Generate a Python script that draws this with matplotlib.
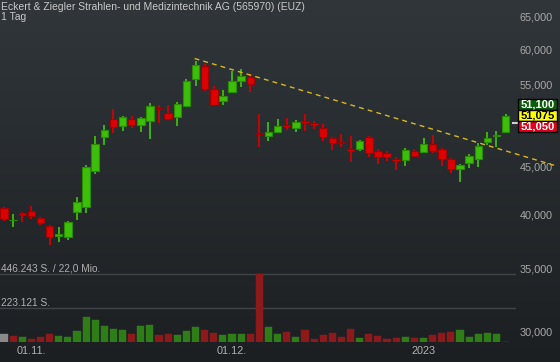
import numpy as np
import matplotlib
matplotlib.use("Agg")
import matplotlib.pyplot as plt
from matplotlib.colors import LinearSegmentedColormap
from matplotlib.ticker import FixedLocator, NullLocator
from matplotlib.patches import Rectangle
import matplotlib.transforms as mtransforms

plt.rcParams['font.family'] = ['Liberation Sans', 'DejaVu Sans']

# ---------------- data ----------------
title = "Eckert & Ziegler Strahlen- und Medizintechnik AG (565970) (EUZ)"
period = "1 Tag"

opens = [40625, 39425, 40160, 40325, 39670, 38865, 37950, 37885, 40285, 40785,
         44555, 48435, 50555, 49765, 50555, 49885, 50380, 51940, 51305, 50880,
         52270, 55815, 57670, 54460, 52875, 54100, 55540, 56090, 48915, 48520,
         49000, 49910, 49520, 50305, 50060, 49445, 48250, 47810, 46960, 46960,
         48400, 46765, 46505, 45820, 45740, 46765, 46685, 47575, 46960, 45820,
         44775, 45440, 45890, 47845, 48485, 49035]
highs = [40785, 40060, 40255, 40855, 39765, 38990, 38800, 39345, 41740, 45185,
         48520, 49850, 51850, 50965, 50965, 50840, 52615, 52360, 52360, 52750,
         55815, 58340, 57870, 54865, 54325, 56925, 57205, 56505, 51215, 50220,
         50590, 50715, 50465, 51215, 50305, 49975, 48365, 48760, 48520, 48045,
         48520, 46960, 46730, 46080, 47075, 46960, 48320, 48640, 47075, 46000,
         45295, 46420, 47730, 49000, 49120, 51215]
lows = [39405, 38825, 39305, 39570, 39020, 37150, 37425, 37605, 39500, 40130,
        44230, 47495, 48915, 49155, 49520, 49035, 48200, 50060, 50555, 49765,
        52145, 54865, 54195, 52235, 52360, 53965, 54770, 54100, 47225, 47930,
        48845, 49240, 49000, 49120, 49325, 47930, 46880, 47260, 45550, 46800,
        46115, 45295, 45630, 44665, 45105, 46080, 46570, 46505, 45105, 44340,
        43365, 44885, 44995, 47460, 47260, 48845]
closes = [39540, 39520, 39930, 39860, 39180, 37885, 38140, 39250, 41230, 44930,
          47540, 49240, 49640, 50800, 49885, 50680, 52235, 51810, 50630, 52490,
          55540, 57770, 54460, 52360, 53530, 55540, 56230, 55175, 48795, 49000,
          49730, 49665, 50220, 50130, 49850, 48440, 47730, 47655, 46800, 47895,
          46570, 46115, 46045, 45665, 46880, 46230, 47575, 46800, 45855, 44775,
          45185, 46195, 47340, 48280, 48640, 51000]
volumes = [54700, 39100, 30600, 21500, 34500, 54100, 41000, 34500, 69700, 164800,
           143300, 102300, 86600, 80100, 54100, 102300, 112700, 47600, 50200, 43600,
           71700, 99700, 76200, 60600, 43600, 54100, 54100, 54100, 446243, 97700,
           54100, 65100, 34500, 80100, 21500, 43600, 60600, 32600, 86600, 26100,
           50200, 39100, 21500, 28000, 32600, 26100, 24100, 47600, 60600, 65100,
           78200, 34500, 50200, 58600, 52100, 0]

price_ticks = [30000, 35000, 40000, 45000, 55000, 60000, 65000]
price_tick_labels = ["30,000", "35,000", "40,000", "45,000", "55,000", "60,000", "65,000"]
date_tick_pos = [3, 25, 46]
date_tick_labels = ["01.11.", "01.12.", "2023"]

vol_max = 446243
vol_max_label = "446.243 S. / 22,0 Mio."
vol_half_label = "223.121 S."

trend_x = [20.9, 60.4]
trend_y = [58700, 45130]

quote_labels = ["51,100", "51,075", "51,050"]
quote_price = 51075

# ---------------- figure ----------------
W, H, DPI = 560, 362, 100
fig = plt.figure(figsize=(W / DPI, H / DPI), dpi=DPI)

bg = fig.add_axes([0, 0, 1, 1], zorder=-10)
cmap = LinearSegmentedColormap.from_list("bg", ["#30363a", "#1c1f22"])
bg.imshow(np.linspace(0, 1, 256).reshape(-1, 1), aspect="auto", cmap=cmap,
          extent=[0, 1, 0, 1], origin="upper")
bg.axis("off")

plot_w = 516 / W
bottom = 20 / H
ax = fig.add_axes([0, bottom, plot_w, 342 / H])
ax.set_facecolor("none")
for s in ax.spines.values():
    s.set_visible(False)
ax.set_yscale("log")
ax.set_ylim(65000 * np.exp(-(342 - 17) / 407), 65000 * np.exp(17 / 407))
ax.set_xlim(-0.44, 56.14)

n = len(opens)
x = np.arange(n)
o = np.array(opens, float)
c = np.array(closes, float)
h = np.array(highs, float)
l = np.array(lows, float)
up = c >= o
fill = np.where(up, "#3cbe0a", "#dc0000")
edge = np.where(up, "#2c8c00", "#a00000")
wick = np.where(up, "#3cbe0a", "#d40000")

ax.vlines(x, l, h, colors=wick, linewidth=1.3, zorder=2)
ax.bar(x, np.abs(c - o), bottom=np.minimum(o, c), width=0.82, color=fill,
       edgecolor=edge, linewidth=0.8, zorder=3)

tl, = ax.plot(trend_x, trend_y, color="#d9b91a", linewidth=1.0, clip_on=False, zorder=4)
tl.set_dashes([3.5, 3])

ax.yaxis.set_major_locator(FixedLocator(price_ticks))
ax.yaxis.set_minor_locator(NullLocator())
ax.set_yticklabels(price_tick_labels)
ax.yaxis.tick_right()
ax.tick_params(axis="y", length=0, pad=26.6, labelcolor="#a8a8a8", labelsize=7.8)
for lbl in ax.get_yticklabels():
    lbl.set_horizontalalignment("right")
ax.tick_params(axis="x", bottom=False, labelbottom=False)

# volume
vol_h_px = 80
axv = fig.add_axes([0, bottom, plot_w, vol_h_px / H], sharex=ax)
axv.set_facecolor("none")
for s in axv.spines.values():
    s.set_visible(False)
axv.set_ylim(0, vol_max * vol_h_px / 68.5)
axv.set_yticks([])
v = np.array(volumes, float)
vcol = ["#8a8a8a"] + ["#2f7d16" if closes[i] >= closes[i - 1] else "#8c1a1a" for i in range(1, n)]
axv.bar(x, v, width=0.78, color=vcol, edgecolor=vcol, linewidth=0.3, zorder=2)
for lvl in (vol_max, vol_max / 2):
    axv.axhline(lvl, color="#404448", linewidth=1.0, zorder=1)
tr = mtransforms.blended_transform_factory(axv.transAxes, axv.transData)
axv.text(0.002, vol_max, vol_max_label, transform=tr, ha="left", va="bottom",
         color="#b0b0b0", fontsize=7.3)
axv.text(0.002, vol_max / 2, vol_half_label, transform=tr, ha="left", va="bottom",
         color="#b0b0b0", fontsize=7.3)
axv.set_xticks(date_tick_pos)
axv.set_xticklabels(date_tick_labels)
axv.tick_params(axis="x", length=0, pad=3.2, labelcolor="#b0b0b0", labelsize=7.8)

# title
fig.text(1 / W, 1 - 10 / H, title, ha="left", va="baseline", color="#c8c8c8", fontsize=7.5)
fig.text(1 / W, 1 - 20.5 / H, period, ha="left", va="baseline", color="#c8c8c8", fontsize=7.5)

# quote boxes
fig.canvas.draw()
yc_disp = ax.transData.transform((0, quote_price))[1]
yc_px = H - yc_disp  # from top
box_h = 11
box_x0, box_x1 = 518, 557
box_cols = [("#0b5c0b", "white"), ("#ffff00", "black"), ("#e0001b", "white")]
for k, (lab, (bc, tc)) in enumerate(zip(quote_labels, box_cols)):
    top = yc_px - box_h * 1.5 + k * box_h
    fig.patches.append(Rectangle((box_x0 / W, 1 - (top + box_h) / H), (box_x1 - box_x0) / W,
                                 box_h / H, transform=fig.transFigure, facecolor=bc,
                                 edgecolor="black", linewidth=1.0, zorder=5))
    fig.text((box_x0 + box_x1) / 2 / W, 1 - (top + box_h / 2) / H, lab, ha="center",
             va="center", color=tc, fontsize=8.0, fontweight="bold", zorder=6)
# last price marker tick
fig.lines.append(plt.Line2D([513 / W, 517 / W], [1 - (yc_px + 8) / H] * 2,
                            transform=fig.transFigure, color="#d0d0d0", linewidth=1.5))

fig.savefig("out.png", dpi=DPI, facecolor="#26292d")
